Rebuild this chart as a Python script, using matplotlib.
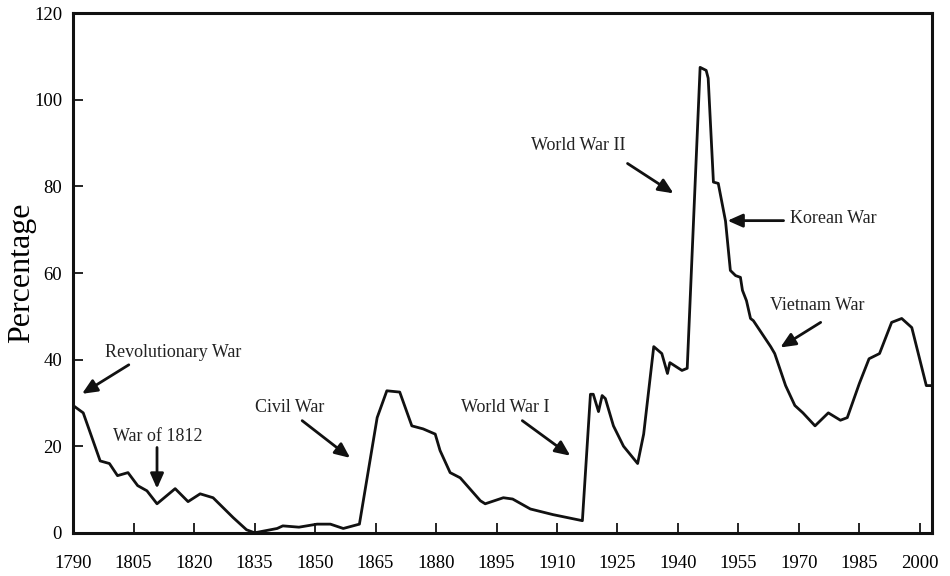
import matplotlib
matplotlib.use("Agg")
import matplotlib.pyplot as plt

# debt as percentage of GDP
years = [1790, 1792.5, 1796.7, 1799, 1801, 1803.6, 1806, 1808.3, 1810.8, 1815.3,
         1818.5, 1821.5, 1824.7, 1829.7, 1833, 1835, 1840.6, 1842, 1846, 1850.5,
         1853.8, 1857, 1861, 1865.4, 1867.8, 1871, 1874, 1876.8, 1879.8, 1881,
         1883.5, 1886, 1891, 1892.2, 1896.7, 1899, 1903.4, 1909, 1916.3, 1918.3,
         1919, 1920.3, 1921.2, 1922, 1924, 1926.5, 1930, 1931.5, 1934, 1936,
         1937.4, 1938, 1941, 1942.3, 1945.5, 1947, 1947.5, 1948.8, 1950, 1951.8,
         1953, 1954.3, 1955.5, 1956, 1957, 1958, 1958.7, 1963, 1964, 1966.7,
         1969, 1971, 1974, 1977.3, 1980.3, 1982, 1985, 1987.4, 1990, 1993,
         1995.5, 1998, 2001.6, 2002.8]
pct = [29.4, 27.7, 16.6, 16.0, 13.2, 13.9, 10.9, 9.7, 6.7, 10.2,
       7.2, 9.0, 8.1, 3.5, 0.7, 0.0, 1.0, 1.6, 1.3, 2.0,
       2.0, 1.0, 2.0, 26.6, 32.8, 32.5, 24.7, 24.0, 22.8, 19.0,
       13.9, 12.7, 7.4, 6.7, 8.1, 7.8, 5.5, 4.2, 2.8, 32.0,
       32.0, 28.0, 31.7, 31.0, 24.7, 20.0, 16.0, 22.8, 43.0, 41.4,
       36.8, 39.3, 37.5, 38.0, 107.5, 106.8, 105.0, 81.0, 80.7, 72.0,
       60.6, 59.4, 59.0, 56.0, 53.6, 49.5, 49.0, 43.0, 41.4, 34.0,
       29.4, 27.7, 24.7, 27.7, 26.0, 26.6, 34.5, 40.2, 41.4, 48.6,
       49.5, 47.4, 34.0, 34.0]

# (label, text x, text y, arrow head x, arrow head y, arrow tail x, arrow tail y, ha)
notes = [
    ("Revolutionary War", 1797.9, 41.6, 1792.2, 32.1, 1803.8, 38.8, "left"),
    ("War of 1812", 1811.0, 22.2, 1810.8, 10.2, 1810.8, 19.7, "center"),
    ("Civil War", 1843.6, 28.9, 1858.7, 17.3, 1846.8, 25.9, "center"),
    ("World War I", 1897.2, 28.9, 1913.3, 17.8, 1901.4, 25.9, "center"),
    ("World War II", 1915.2, 89.5, 1938.9, 78.4, 1927.5, 85.3, "center"),
    ("Korean War", 1967.9, 72.6, 1952.3, 72.1, 1966.2, 72.1, "left"),
    ("Vietnam War", 1974.6, 52.5, 1965.4, 42.8, 1975.4, 48.6, "center"),
]

xticks = [1790, 1805, 1820, 1835, 1850, 1865, 1880, 1895, 1910, 1925, 1940, 1955, 1970, 1985, 2000]
yticks = [0, 20, 40, 60, 80, 100, 120]

plt.rcParams['font.family'] = ['Liberation Serif', 'DejaVu Serif']

fig = plt.figure(figsize=(9.5, 5.76), dpi=100)
ax = fig.add_axes([0.077, 0.075, 0.904, 0.902])

ax.plot(years, pct, color='#111111', lw=2.0, solid_joinstyle='round')

for label, tx, ty, hx, hy, ax_, ay, ha in notes:
    ax.annotate("", xy=(hx, hy), xytext=(ax_, ay),
                arrowprops=dict(arrowstyle='-|>,head_length=0.9,head_width=0.4',
                                color='#111111', lw=2.0, shrinkA=0, shrinkB=0))
    ax.text(tx, ty, label, ha=ha, va='center', fontsize=13, color='#222222')

ax.set_xlim(1790, 2003)
ax.set_ylim(0, 120)
ax.set_xticks(xticks)
ax.set_yticks(yticks)
ax.tick_params(axis='both', direction='in', length=7, width=1.2, labelsize=13.5, top=False, right=False)
ax.tick_params(axis='x', pad=16)
ax.tick_params(axis='y', pad=8)
for s in ax.spines.values():
    s.set_linewidth(2.2)
    s.set_color('#111111')

ax.set_ylabel('Percentage', fontsize=23)
ax.yaxis.set_label_coords(-0.043, 0.5)

fig.savefig('out.png', dpi=100)
